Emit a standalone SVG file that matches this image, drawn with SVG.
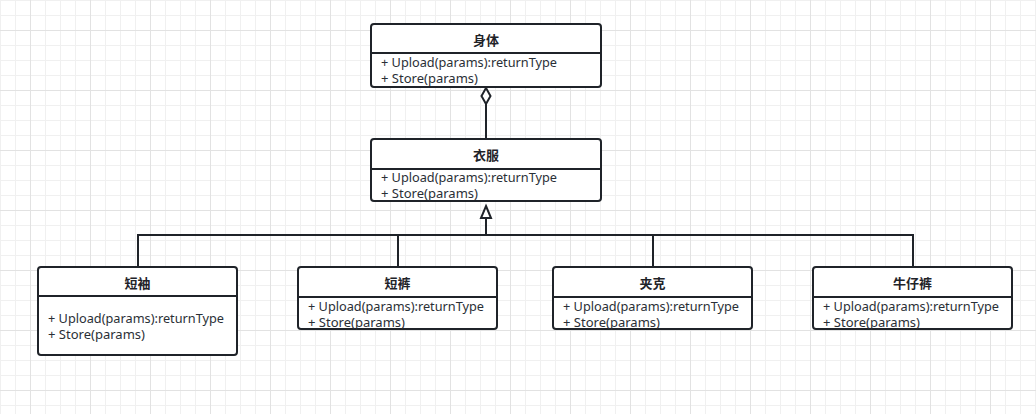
<svg xmlns="http://www.w3.org/2000/svg" width="1036" height="414" viewBox="0 0 1036 414">
<defs>
<pattern id="grid" patternUnits="userSpaceOnUse" x="30" y="30" width="60" height="60">
<rect x="0" y="0" width="60" height="60" fill="#ffffff"/>
<rect x="15" y="0" width="1" height="60" fill="#f0f0f0"/>
<rect x="30" y="0" width="1" height="60" fill="#f0f0f0"/>
<rect x="45" y="0" width="1" height="60" fill="#f0f0f0"/>
<rect x="0" y="15" width="60" height="1" fill="#f0f0f0"/>
<rect x="0" y="30" width="60" height="1" fill="#f0f0f0"/>
<rect x="0" y="45" width="60" height="1" fill="#f0f0f0"/>
<rect x="0" y="0" width="1" height="60" fill="#e2e2e2"/>
<rect x="0" y="0" width="60" height="1" fill="#e2e2e2"/>
</pattern>
</defs>
<style>
.box{fill:#ffffff;stroke:#1f2329;stroke-width:2}
.div{stroke:#1f2329;stroke-width:2}
.title{font-family:"Noto Sans CJK SC","Noto Sans",sans-serif;font-size:13px;font-weight:bold;fill:#1f2329;text-anchor:middle}
.m{font-family:"Noto Sans","Liberation Sans",sans-serif;font-size:12.5px;fill:#2a2f36}
.edge{fill:none;stroke:#1f2329;stroke-width:2}
</style>
<rect x="0" y="0" width="1036" height="414" fill="url(#grid)"/>

<g id="connectors">
<path class="edge" d="M486 104 V139"/>
<path d="M486 88 L490.5 96 L486 104 L481.5 96 Z" fill="#ffffff" stroke="#1f2329" stroke-width="2"/>
<path class="edge" d="M486 218 V235"/>
<path d="M486 206 L491 218 L481 218 Z" fill="#ffffff" stroke="#1f2329" stroke-width="2"/>
<path class="edge" d="M138 267 V235 H913 V267"/>
<path class="edge" d="M398 235 V267"/>
<path class="edge" d="M653 235 V267"/>
</g>

<g id="shenti">
<rect class="box" x="371" y="24" width="230" height="63" rx="3"/>
<line class="div" x1="371" y1="53" x2="601" y2="53"/>
<text class="title" x="486" y="45">身体</text>
<text class="m" x="381" y="67" textLength="176" lengthAdjust="spacingAndGlyphs">+ Upload(params):returnType</text>
<text class="m" x="381" y="83" textLength="97" lengthAdjust="spacingAndGlyphs">+ Store(params)</text>
</g>

<g id="yifu">
<rect class="box" x="371" y="139" width="230" height="62" rx="3"/>
<line class="div" x1="371" y1="169" x2="601" y2="169"/>
<text class="title" x="486" y="160">衣服</text>
<text class="m" x="381" y="182" textLength="176" lengthAdjust="spacingAndGlyphs">+ Upload(params):returnType</text>
<text class="m" x="381" y="198" textLength="97" lengthAdjust="spacingAndGlyphs">+ Store(params)</text>
</g>

<g id="duanxiu">
<rect class="box" x="38" y="267" width="199" height="88" rx="3"/>
<line class="div" x1="38" y1="296" x2="237" y2="296"/>
<text class="title" x="137.5" y="288">短袖</text>
<text class="m" x="48" y="323" textLength="176" lengthAdjust="spacingAndGlyphs">+ Upload(params):returnType</text>
<text class="m" x="48" y="339" textLength="97" lengthAdjust="spacingAndGlyphs">+ Store(params)</text>
</g>

<g id="duanku">
<rect class="box" x="298" y="267" width="199" height="62" rx="3"/>
<line class="div" x1="298" y1="297" x2="497" y2="297"/>
<text class="title" x="397.5" y="288">短裤</text>
<text class="m" x="308" y="311" textLength="176" lengthAdjust="spacingAndGlyphs">+ Upload(params):returnType</text>
<text class="m" x="308" y="327" textLength="97" lengthAdjust="spacingAndGlyphs">+ Store(params)</text>
</g>

<g id="jiake">
<rect class="box" x="553" y="267" width="199" height="62" rx="3"/>
<line class="div" x1="553" y1="297" x2="752" y2="297"/>
<text class="title" x="652.5" y="288">夹克</text>
<text class="m" x="563" y="311" textLength="176" lengthAdjust="spacingAndGlyphs">+ Upload(params):returnType</text>
<text class="m" x="563" y="327" textLength="97" lengthAdjust="spacingAndGlyphs">+ Store(params)</text>
</g>

<g id="niuzaiku">
<rect class="box" x="813" y="267" width="199" height="62" rx="3"/>
<line class="div" x1="813" y1="297" x2="1012" y2="297"/>
<text class="title" x="912.5" y="288">牛仔裤</text>
<text class="m" x="823" y="311" textLength="176" lengthAdjust="spacingAndGlyphs">+ Upload(params):returnType</text>
<text class="m" x="823" y="327" textLength="97" lengthAdjust="spacingAndGlyphs">+ Store(params)</text>
</g>
</svg>
